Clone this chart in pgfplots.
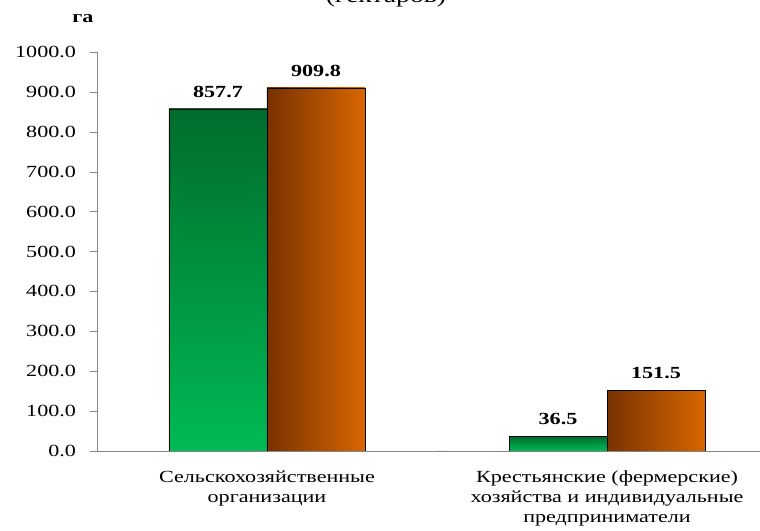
\documentclass[border=0pt]{standalone}
\usepackage{pgfplots}
\pgfplotsset{compat=1.18}
\usepackage{fontspec}
\setmainfont{Liberation Serif}[FakeStretch=1.3]

\definecolor{gtop}{RGB}{0,108,45}
\definecolor{gbot}{RGB}{0,186,84}
\definecolor{oleft}{RGB}{120,50,0}
\definecolor{omid}{RGB}{182,86,0}
\definecolor{oright}{RGB}{216,102,0}
\definecolor{axgray}{RGB}{134,134,134}

\begin{document}
\begin{tikzpicture}
\begin{axis}[
  scale only axis, width=497.25pt, height=299.25pt,
  xmin=-0.5, xmax=1.45, ymin=0, ymax=1000,
  axis x line=bottom, axis y line=left,
  axis line style={draw=axgray, -},
  font=\fontsize{12.75}{15}\selectfont,
  ybar, bar width=73.5pt,
  ytick={0,100,...,1000},
  tick align=outside, major tick length=5.25pt,
  ytick style={draw=axgray},
  xtick={0,1}, xtick style={draw=none},
  xticklabels={Сельскохозяйственные\\организации,
    Крестьянские (фермерские)\\хозяйства и индивидуальные\\предприниматели},
  xticklabel style={align=center, yshift=-6pt},
  yticklabel style={xshift=-7pt},
  /pgf/number format/assume math mode=true,
  y tick label style={/pgf/number format/.cd, fixed, fixed zerofill, precision=1, 1000 sep={}},
  nodes near coords,
  nodes near coords style={font=\fontsize{12.75}{15}\selectfont\bfseries, anchor=south, yshift=5pt,
    /pgf/number format/.cd, fixed, fixed zerofill, precision=1, assume math mode=true},
  green bar/.style={draw=black, bar shift=-36.75pt, top color=gtop, bottom color=gbot},
  orange bar/.style={draw=black, bar shift=36.75pt, left color=oleft, middle color=omid, right color=oright},
]
% Сельскохозяйственные организации
\addplot[green bar] coordinates {(0,857.7)};
\addplot[orange bar] coordinates {(0,909.8)};
% Крестьянские (фермерские) хозяйства и ИП
\addplot[green bar] coordinates {(1,36.5)};
\addplot[orange bar] coordinates {(1,151.5)};
\draw[axgray] (axis cs:0.5,0) -- ++(0,-4pt);
\end{axis}
\node[anchor=base, font=\fontsize{16}{19}\selectfont] at (216.75pt,336pt) {(гектаров)};
\node[anchor=base, font=\fontsize{12.75}{15}\selectfont\bfseries] at (-10.5pt,321pt) {га};
\pgfresetboundingbox
\path[use as bounding box] (-72.75pt,-60pt) rectangle (497.25pt,338.25pt);
\end{tikzpicture}
\end{document}
